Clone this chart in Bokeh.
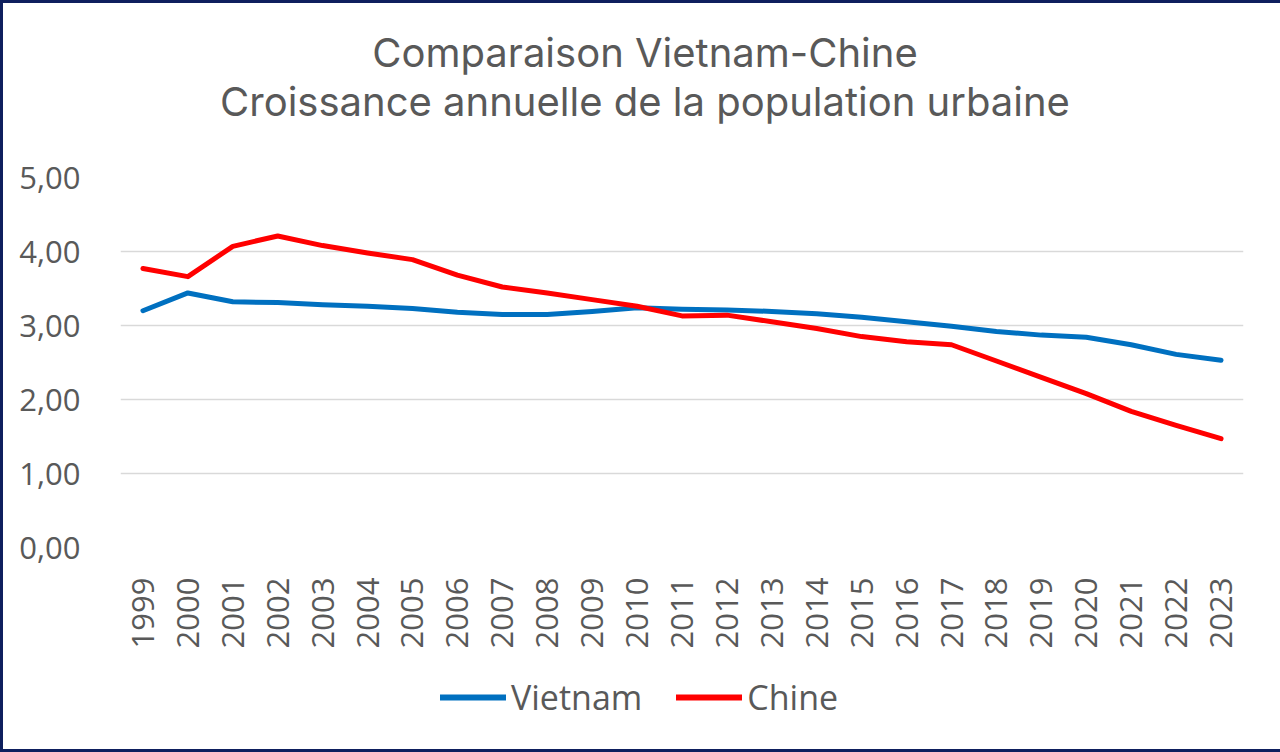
from bokeh.plotting import figure
from bokeh.models import (FactorRange, Range1d, FixedTicker, Legend, LegendItem, Div)
from bokeh.layouts import column
from bokeh.embed import file_html
from bokeh.resources import INLINE
import math

# Croissance annuelle de la population urbaine (%)
years = [str(y) for y in range(1999, 2024)]
vietnam = [3.20, 3.44, 3.32, 3.31, 3.28, 3.26, 3.23, 3.18, 3.15, 3.15, 3.19, 3.24,
           3.22, 3.21, 3.19, 3.16, 3.11, 3.05, 2.99, 2.92, 2.87, 2.84, 2.74, 2.61, 2.53]
chine = [3.77, 3.66, 4.07, 4.21, 4.08, 3.98, 3.89, 3.68, 3.52, 3.44, 3.35, 3.26,
         3.13, 3.14, 3.05, 2.96, 2.85, 2.78, 2.74, 2.52, 2.30, 2.08, 1.84, 1.65, 1.47]
y_ticks = [0, 1, 2, 3, 4, 5]
y_labels = ["0,00", "1,00", "2,00", "3,00", "4,00", "5,00"]
title_lines = ["Comparaison Vietnam-Chine", "Croissance annuelle de la population urbaine"]
series = [("Vietnam", vietnam, "#0070C0"), ("Chine", chine, "#FF0000")]

FONT = "Open Sans"
GREY = "#595959"
W = 1274

# two-line heading
heading = Div(
    text=('<div style="width:%dpx;text-align:center;padding-top:20px;'
          'font-family:Inter;font-size:40px;line-height:49px;color:%s">%s</div>'
          % (W, GREY, "<br>".join(title_lines))),
    width=W, height=144)

# main chart
p = figure(frame_width=1123, frame_height=370, output_backend="svg", toolbar_location=None,
           x_range=FactorRange(*years, range_padding=0), y_range=Range1d(0, 5),
           min_border_left=117, min_border_right=34, min_border_top=20,
           min_border_bottom=110, outline_line_color=None)

for name, vals, color in series:
    p.line(years, vals, line_color=color, line_width=5,
           line_cap="round", line_join="round")

p.xgrid.grid_line_color = None
p.ygrid.grid_line_color = "#D9D9D9"
p.ygrid.grid_line_width = 1.5

p.yaxis.ticker = FixedTicker(ticks=y_ticks)
p.yaxis.major_label_overrides = dict(zip(y_ticks, y_labels))
for ax in (p.xaxis[0], p.yaxis[0]):
    ax.axis_line_color = None
    ax.major_tick_line_color = None
    ax.minor_tick_line_color = None
    ax.major_label_text_font = FONT
    ax.major_label_text_color = GREY
    ax.major_label_text_font_size = "31px"
p.yaxis.major_label_standoff = 34
p.xaxis.major_label_orientation = math.pi / 2
p.xaxis.major_label_standoff = 24

# legend strip under the chart (swatch renderers carry no visible data)
leg = figure(width=W, height=92, output_backend="svg", toolbar_location=None,
             x_axis_type=None, y_axis_type=None, min_border=0,
             outline_line_color=None, x_range=Range1d(0, 1), y_range=Range1d(0, 1))
leg.grid.visible = False
items = []
for name, vals, color in series:
    r = leg.line([math.nan], [math.nan], line_color=color, line_width=6, line_cap="round")
    items.append(LegendItem(label=name, renderers=[r]))
legend = Legend(items=items, orientation="horizontal", location=(320, 29),
                glyph_width=66, glyph_height=20, label_standoff=5, spacing=34,
                label_text_font=FONT, label_text_font_size="34px",
                label_text_color=GREY, border_line_color=None,
                background_fill_alpha=0, margin=0, padding=0)
leg.add_layout(legend)

page = column(heading, p, leg, spacing=0,
              styles={"border": "3px solid #0E1F5E", "background": "white"})

open("out.html", "w").write(file_html(page, INLINE))
